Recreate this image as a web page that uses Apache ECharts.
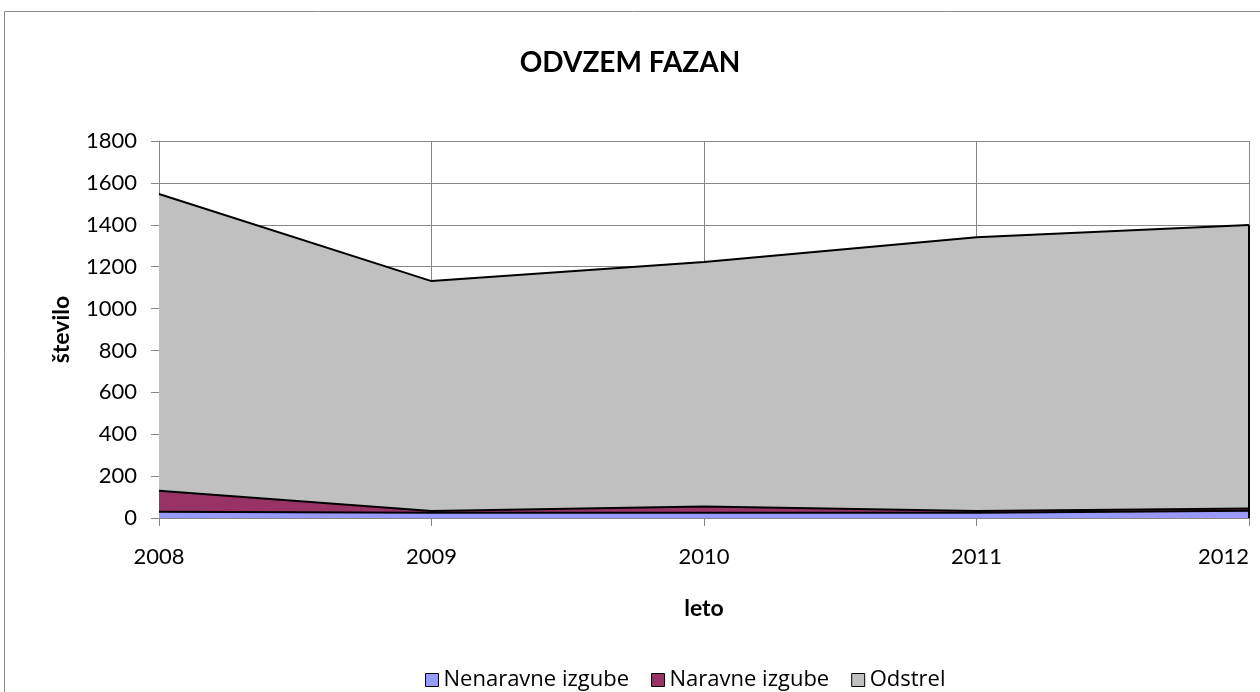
<!DOCTYPE html>
<html>
<head>
<meta charset="utf-8">
<script src="https://cdn.jsdelivr.net/npm/echarts@6/dist/echarts.min.js"></script>
<style>
  html, body { margin: 0; padding: 0; background: #fff; }
  #chart { width: 1260px; height: 692px; }
</style>
</head>
<body>
<div id="chart"></div>
<script>
// leta in vrednosti (odčitano s slike)
var years = ['2008', '2009', '2010', '2011', '2012'];
var nenaravne = [30, 25, 25, 25, 35];
var naravne = [100, 8, 30, 8, 10];
var odstrel = [1417, 1098, 1167, 1308, 1354];

var fontFam = 'Lato, "Open Sans", sans-serif';
var chart = echarts.init(document.getElementById('chart'));

// skupna višina v zadnjem letu (za navpični rob ploskve)
var last = years.length - 1;
var lastTotal = nenaravne[last] + naravne[last] + odstrel[last];

function areaSeries(name, data, color) {
    return {
        name: name,
        type: 'line',
        stack: 'skupaj',
        data: data,
        symbol: 'none',
        lineStyle: {color: '#000', width: 2},
        areaStyle: {color: color, opacity: 1},
        itemStyle: {color: color, borderColor: '#000', borderWidth: 1}
    };
}

var odstrelSeries = areaSeries('Odstrel', odstrel, '#C0C0C0');
odstrelSeries.markLine = {
    silent: true,
    symbol: 'none',
    label: {show: false},
    lineStyle: {color: '#000', width: 2, type: 'solid'},
    data: [[{coord: [years[last], 0]}, {coord: [years[last], lastTotal]}]]
};

chart.setOption({
    backgroundColor: '#fff',
    animation: false,
    title: {
        text: 'ODVZEM FAZAN',
        left: 'center',
        top: 44,
        textStyle: {fontFamily: fontFam, fontSize: 28, fontWeight: 'bold', color: '#000'}
    },
    graphic: [{
        type: 'rect',
        shape: {x: 4.5, y: 11.5, width: 1300, height: 700},
        style: {fill: 'none', stroke: '#8c8c8c', lineWidth: 1}
    }],
    legend: {
        left: 420,
        top: 664,
        itemWidth: 13,
        itemHeight: 13,
        itemGap: 22,
        icon: 'rect',
        textStyle: {fontFamily: '"Open Sans", sans-serif', fontSize: 22, color: '#000'},
        data: [
            {name: 'Nenaravne izgube', itemStyle: {borderColor: '#000', borderWidth: 1}},
            {name: 'Naravne izgube', itemStyle: {borderColor: '#000', borderWidth: 1}},
            {name: 'Odstrel', itemStyle: {borderColor: '#000', borderWidth: 1}}
        ]
    },
    grid: {left: 159, right: 11, top: 141, bottom: 174, containLabel: false, outerBoundsMode: 'none'},
    xAxis: {
        type: 'category',
        data: years,
        boundaryGap: false,
        name: 'leto',
        nameLocation: 'middle',
        nameGap: 79,
        nameTextStyle: {fontFamily: fontFam, fontSize: 23, fontWeight: 'bold', color: '#000'},
        axisLine: {lineStyle: {color: '#868686', width: 1}},
        axisTick: {show: true, length: 8, lineStyle: {color: '#868686'}},
        axisLabel: {fontFamily: fontFam, fontSize: 22, color: '#000', margin: 28, alignMaxLabel: 'right'},
        splitLine: {show: true, lineStyle: {color: '#868686', width: 1}}
    },
    yAxis: {
        type: 'value',
        min: 0,
        max: 1800,
        interval: 200,
        name: 'število',
        nameLocation: 'middle',
        nameGap: 86,
        nameRotate: 90,
        nameTextStyle: {fontFamily: fontFam, fontSize: 23, fontWeight: 'bold', color: '#000'},
        axisLine: {show: true, lineStyle: {color: '#868686', width: 1}},
        axisTick: {show: true, length: 8, lineStyle: {color: '#868686'}},
        axisLabel: {fontFamily: fontFam, fontSize: 22, color: '#000', margin: 22, formatter: function (v) { return String(v); }},
        splitLine: {show: true, lineStyle: {color: '#868686', width: 1}}
    },
    series: [
        areaSeries('Nenaravne izgube', nenaravne, '#9999FF'),
        areaSeries('Naravne izgube', naravne, '#993366'),
        odstrelSeries
    ]
});
</script>
</body>
</html>
